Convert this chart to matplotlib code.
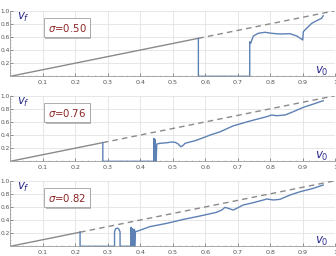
import matplotlib
matplotlib.use("Agg")
import matplotlib.pyplot as plt
import matplotlib.transforms as mtransforms
import numpy as np

sigmas = ["0.50", "0.76", "0.82"]
thresholds = [0.579, 0.285, 0.215]

vf_x1 = [0.579, 0.579, 0.737, 0.737, 0.740, 0.748, 0.763, 0.784, 0.805, 0.830, 0.861,
         0.882, 0.897, 0.900, 0.902, 0.912, 0.928, 0.943, 0.958, 0.963]
vf_y1 = [0.579, 0.0, 0.0, 0.527, 0.503, 0.614, 0.655, 0.671, 0.655, 0.645, 0.649,
         0.614, 0.564, 0.553, 0.680, 0.732, 0.808, 0.848, 0.884, 0.924]

vf_x2 = [0.285, 0.285, 0.442, 0.442, 0.443, 0.446, 0.446, 0.447, 0.449, 0.451, 0.461,
         0.482, 0.497, 0.507, 0.517, 0.525, 0.531, 0.538, 0.553, 0.569, 0.589, 0.615,
         0.646, 0.686, 0.738, 0.789, 0.805, 0.820, 0.846, 0.871, 0.902, 0.933, 0.963]
vf_y2 = [0.285, 0.0, 0.0, 0.350, 0.0, 0.0, 0.330, 0.0, 0.0, 0.264, 0.274,
         0.283, 0.294, 0.290, 0.264, 0.223, 0.238, 0.274, 0.294, 0.314, 0.350, 0.400,
         0.450, 0.540, 0.614, 0.680, 0.706, 0.695, 0.706, 0.756, 0.823, 0.873, 0.924]

vf_x3 = [0.215, 0.215, 0.321, 0.321, 0.324, 0.329, 0.334, 0.338, 0.338, 0.372,
         0.372, 0.373, 0.376, 0.377, 0.379, 0.380, 0.382, 0.383, 0.385, 0.387,
         0.430, 0.482, 0.533, 0.584, 0.635, 0.651, 0.661, 0.671, 0.686, 0.697,
         0.717, 0.748, 0.779, 0.789, 0.810, 0.830, 0.861, 0.892, 0.933, 0.963]
vf_y3 = [0.220, 0.0, 0.0, 0.220, 0.265, 0.278, 0.265, 0.220, 0.0, 0.0,
         0.290, 0.0, 0.270, 0.0, 0.250, 0.0, 0.260, 0.0, 0.230, 0.223,
         0.300, 0.350, 0.410, 0.462, 0.518, 0.553, 0.594, 0.579, 0.553, 0.579,
         0.630, 0.665, 0.706, 0.721, 0.706, 0.716, 0.782, 0.832, 0.884, 0.934]

curves = [(vf_x1, vf_y1), (vf_x2, vf_y2), (vf_x3, vf_y3)]

x_ticks = [0.1, 0.2, 0.3, 0.4, 0.5, 0.6, 0.7, 0.8, 0.9, 1.0]
x_labels = ["0.1", "0.2", "0.3", "0.4", "0.5", "0.6", "0.7", "0.8", "0.9", "1"]
y_ticks = [0.2, 0.4, 0.6, 0.8, 1.0]
y_labels = ["0.2", "0.4", "0.6", "0.8", "1.0"]

blue = "#5E81B5"
gray = "#8a8a8a"
navy = "#2b2b8c"
red = "#8b2323"

fig = plt.figure(figsize=(3.36, 2.56), dpi=100)
W, H = 336, 256
bottoms_px = [76.3, 161.3, 246.3]
ax_h = 65.6
left_px, right_px = 10.2, 335.2

for i, (sig, thr, (cx, cy)) in enumerate(zip(sigmas, thresholds, curves)):
    ax = fig.add_axes([left_px / W, (H - bottoms_px[i]) / H,
                       (right_px - left_px) / W, ax_h / H])
    ax.set_xlim(0, 1)
    ax.set_ylim(0, 1)
    ax.set_xticks(x_ticks)
    ax.set_xticklabels(x_labels)
    ax.set_yticks(y_ticks)
    ax.set_yticklabels(y_labels)
    ax.set_yticks(np.arange(0.05, 1.0, 0.05), minor=True)
    ax.set_xticks(np.arange(0.02, 1.0, 0.02), minor=True)
    ax.tick_params(axis="both", which="major", colors="#666666",
                   length=2, width=0.5, direction="in")
    ax.tick_params(axis="x", labelsize=4.6, pad=3)
    ax.tick_params(axis="y", labelsize=4.2, pad=0.2)
    ax.tick_params(axis="both", which="minor", length=1, width=0.4,
                   direction="in", colors="#999999")
    for lab in ax.get_xticklabels() + ax.get_yticklabels():
        lab.set_color("#555555")
    ax.grid(True, which="major", color="#e3e3e3", linewidth=0.6)
    ax.set_axisbelow(True)
    for s in ["top", "right"]:
        ax.spines[s].set_visible(False)
    for s in ["left", "bottom"]:
        ax.spines[s].set_color("#9a9a9a")
        ax.spines[s].set_linewidth(0.6)

    ax.plot([0, thr], [0, thr], color=gray, lw=1.0, solid_capstyle="butt")
    ax.plot([thr, 1], [thr, 1], color=gray, lw=1.0, ls=(0, (4, 3)))
    ax.plot(cx, cy, color=blue, lw=1.0, clip_on=False)

    ax.text(0.02, 0.9, r"$v_f$", transform=ax.transAxes, color=navy,
            fontsize=8.5, ha="left", va="center")
    ax.text(0.958, 0.07, r"$v_0$", transform=ax.transAxes, color=navy,
            fontsize=8.5, ha="center", va="center")

    tx, ty = 0.175, 0.74
    sh = ax.text(tx, ty, r"$\sigma$=" + sig, fontsize=7.3,
                 color="none", ha="center", va="center",
                 bbox=dict(boxstyle="square,pad=0.35", fc="#bcbcbc", ec="none"),
                 zorder=4,
                 transform=ax.transAxes + mtransforms.ScaledTranslation(
                     1.2 / 100, -1.2 / 100, fig.dpi_scale_trans))
    ax.text(tx, ty, r"$\sigma$=" + sig, transform=ax.transAxes, fontsize=7.3,
            color=red, ha="center", va="center",
            bbox=dict(boxstyle="square,pad=0.35", fc="white", ec="#a0a0a0", lw=0.6),
            zorder=5)

fig.savefig("out.png", dpi=100)
